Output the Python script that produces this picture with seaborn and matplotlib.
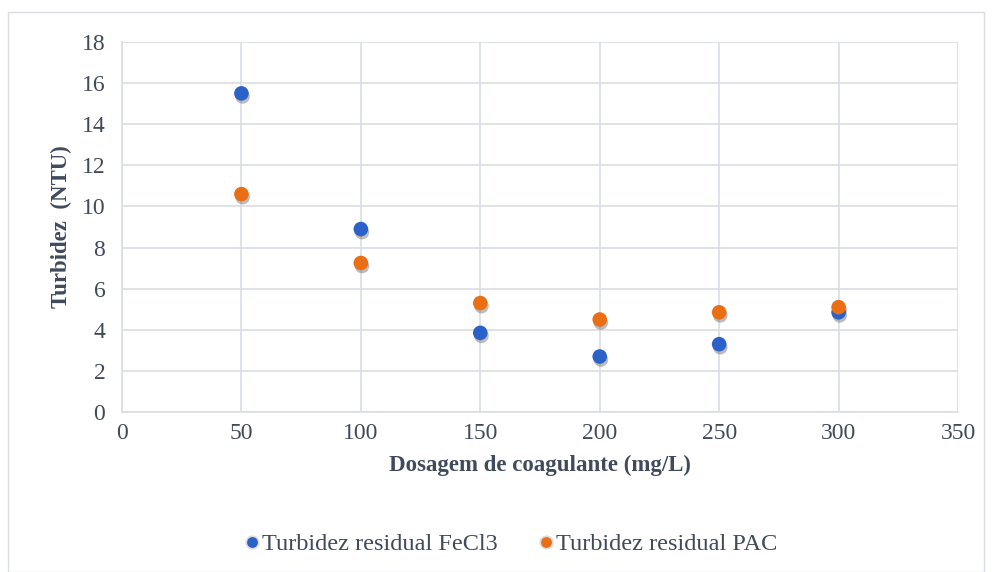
import matplotlib
matplotlib.use("Agg")
import matplotlib.pyplot as plt
import matplotlib.patheffects as pe
import seaborn as sns
import pandas as pd
from matplotlib.lines import Line2D

dosagem = [50, 100, 150, 200, 250, 300]
fecl3 = [15.5, 8.9, 3.85, 2.7, 3.3, 4.85]
pac = [10.6, 7.25, 5.3, 4.5, 4.85, 5.1]
series_names = ["Turbidez residual FeCl3", "Turbidez residual PAC"]
x_ticks = [0, 50, 100, 150, 200, 250, 300, 350]
y_ticks = [0, 2, 4, 6, 8, 10, 12, 14, 16, 18]

df = pd.DataFrame({
    "x": dosagem * 2,
    "y": fecl3 + pac,
    "serie": [series_names[0]] * len(dosagem) + [series_names[1]] * len(dosagem),
})

sns.set_theme(style="white")
plt.rcParams['font.family'] = ['Liberation Serif', 'DejaVu Serif']
txt = "#404a5c"
grid = "#d9dde3"

fig = plt.figure(figsize=(9.92, 5.72), dpi=100)
ax = fig.add_axes([122/992, 1-412/572, (958-122)/992, (412-42)/572])
fig.patches.append(plt.Rectangle((8/992, 0), 1-16/992, 1-12/572, transform=fig.transFigure,
                                 fill=False, edgecolor="#d9dde3", lw=1.0))

palette = {series_names[0]: "#2a62c9", series_names[1]: "#ea6f14"}
sns.scatterplot(data=df, x="x", y="y", hue="serie", palette=palette, s=110,
                edgecolor="none", ax=ax, legend=False, zorder=3)
for coll in ax.collections:
    coll.set_path_effects([pe.SimplePatchShadow(offset=(0.8, -2.2), shadow_rgbFace="#7a7a7a", alpha=0.5),
                           pe.Normal()])

ax.set_xlim(0, 350)
ax.set_ylim(0, 18)
ax.set_xticks(x_ticks)
ax.set_yticks(y_ticks)
ax.grid(True, color=grid, lw=1.2, zorder=0)
ax.set_axisbelow(True)
for s in ["top", "right"]:
    ax.spines[s].set_visible(False)
for s in ["left", "bottom"]:
    ax.spines[s].set_color(grid)
    ax.spines[s].set_linewidth(1.2)
ax.tick_params(axis="both", length=0, labelsize=17, labelcolor=txt)
ax.tick_params(axis="y", pad=12)
ax.tick_params(axis="x", pad=8)
ax.set_xlabel("Dosagem de coagulante (mg/L)", fontsize=16.5, fontweight="bold", color=txt, labelpad=8)
ax.set_ylabel("Turbidez  (NTU)", fontsize=16.5, fontweight="bold", color=txt, labelpad=7)

handles = [Line2D([], [], marker="o", ls="none", markersize=9, markerfacecolor=palette[n],
                  markeredgecolor="#dcdcdc", markeredgewidth=1.2) for n in series_names]
fig.legend(handles, series_names, loc="center", bbox_to_anchor=(510/992, 1-544/572), ncol=2,
           frameon=False, fontsize=17.5, labelcolor=txt, handletextpad=0.0, columnspacing=1.6,
           handlelength=0.8)

fig.savefig("out.png", dpi=100)
